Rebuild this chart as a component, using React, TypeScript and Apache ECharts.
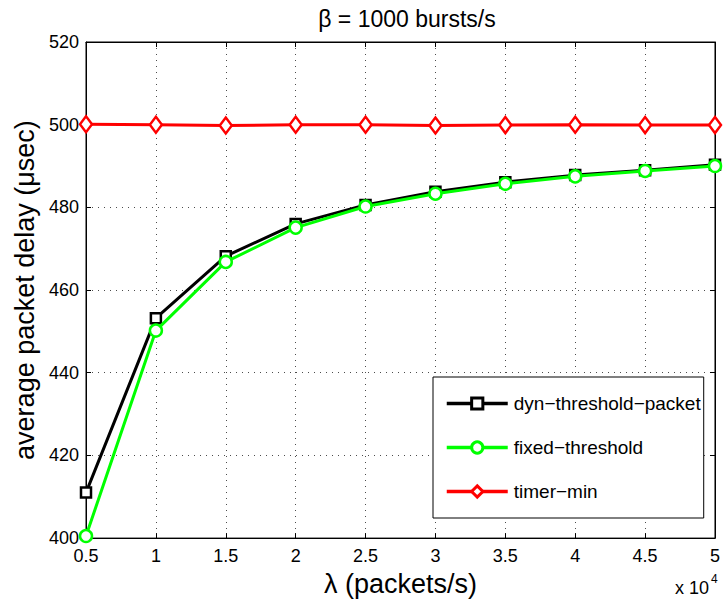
import React, { useEffect, useRef } from "react";
import * as echarts from "echarts";

const xValues = [0.5, 1, 1.5, 2, 2.5, 3, 3.5, 4, 4.5, 5];
const dynThreshold = [411, 453.2, 468.2, 476, 480.6, 483.8, 486.1, 487.8, 489, 490.3];
const fixedThreshold = [400.5, 450.2, 466.8, 475.1, 480.2, 483.3, 485.7, 487.5, 488.8, 490];
const timerMin = [500.1, 500, 499.8, 500, 500, 499.8, 499.9, 500, 499.9, 499.9];
const seriesNames = ["dyn\u2212threshold\u2212packet", "fixed\u2212threshold", "timer\u2212min"];

const FONT = "'Liberation Sans', Arial, Helvetica, sans-serif";

export default function App() {
  const ref = useRef<HTMLDivElement>(null);
  useEffect(() => {
    const chart = echarts.init(ref.current!, undefined, { renderer: "svg" });
    const mk = (ys: number[]) => xValues.map((x, i) => [x, ys[i]]);
    const tickStyle = { show: true, inside: true, length: 5, lineStyle: { color: "#000" } };
    chart.setOption({
      animation: false,
      backgroundColor: "#fff",
      textStyle: { fontFamily: FONT },
      title: {
        text: "\u03b2 = 1000 bursts/s",
        left: 402,
        textAlign: "center",
        top: 2,
        textStyle: { fontFamily: FONT, fontSize: 23, fontWeight: "normal", color: "#000" },
      },
      grid: { left: 86, right: 6, top: 42, bottom: 61, show: true, borderColor: "#000", borderWidth: 1 },
      legend: {
        orient: "vertical",
        left: 433,
        top: 377,
        data: seriesNames,
        backgroundColor: "#fff",
        borderColor: "#000",
        borderWidth: 1,
        padding: [17, 3, 17, 12],
        itemGap: 25,
        itemWidth: 61,
        itemHeight: 14,
        lineStyle: { width: 3.5 },
        itemStyle: { borderWidth: 3 },
        textStyle: { fontFamily: FONT, fontSize: 19, color: "#000", padding: [0, 0, 0, 1] },
      },
      xAxis: [
        {
          type: "value",
          min: 0.5,
          max: 5,
          interval: 0.5,
          name: "\u03bb (packets/s)",
          nameLocation: "middle",
          nameGap: 29,
          nameTextStyle: { fontFamily: FONT, fontSize: 27, color: "#000" },
          axisLine: { show: true, lineStyle: { color: "#000" } },
          axisTick: tickStyle,
          axisLabel: { color: "#000", fontSize: 18, fontFamily: FONT, margin: 9, formatter: (v: number) => String(v) },
          splitLine: { show: true, lineStyle: { color: "#000", type: [1, 5], width: 1, opacity: 0.7 } },
        },
        {
          type: "value",
          position: "top",
          min: 0.5,
          max: 5,
          interval: 0.5,
          axisLine: { show: true, lineStyle: { color: "#000" } },
          axisTick: tickStyle,
          axisLabel: { show: false },
          splitLine: { show: false },
        },
      ],
      yAxis: [
        {
          type: "value",
          min: 400,
          max: 520,
          interval: 20,
          name: "average packet delay (\u03bcsec)",
          nameLocation: "middle",
          nameGap: 46,
          nameTextStyle: { fontFamily: FONT, fontSize: 27, color: "#000" },
          axisLine: { show: true, lineStyle: { color: "#000" } },
          axisTick: tickStyle,
          axisLabel: { color: "#000", fontSize: 18, fontFamily: FONT, margin: 7 },
          splitLine: { show: true, lineStyle: { color: "#000", type: [1, 5], width: 1, opacity: 0.7 } },
        },
        {
          type: "value",
          position: "right",
          min: 400,
          max: 520,
          interval: 20,
          axisLine: { show: true, lineStyle: { color: "#000" } },
          axisTick: tickStyle,
          axisLabel: { show: false },
          splitLine: { show: false },
        },
      ],
      graphic: [
        {
          type: "text",
          left: 675,
          top: 579,
          style: { text: "x 10", fontFamily: FONT, fontSize: 18, fill: "#000" },
        },
        {
          type: "text",
          left: 711,
          top: 573,
          style: { text: "4", fontFamily: FONT, fontSize: 12, fill: "#000" },
        },
      ],
      series: [
        {
          name: seriesNames[0],
          type: "line",
          data: mk(dynThreshold),
          symbol: "rect",
          symbolSize: 10,
          showAllSymbol: true,
          lineStyle: { color: "#000", width: 3 },
          itemStyle: { color: "#fff", borderColor: "#000", borderWidth: 2.5 },
          color: "#000",
          z: 3,
        },
        {
          name: seriesNames[1],
          type: "line",
          data: mk(fixedThreshold),
          symbol: "circle",
          symbolSize: 12,
          lineStyle: { color: "#00ff00", width: 3 },
          itemStyle: { color: "#fff", borderColor: "#00ff00", borderWidth: 2.5 },
          color: "#00ff00",
          z: 4,
        },
        {
          name: seriesNames[2],
          type: "line",
          data: mk(timerMin),
          symbol: "diamond",
          symbolSize: [12, 16],
          lineStyle: { color: "#ff0000", width: 3 },
          itemStyle: { color: "#fff", borderColor: "#ff0000", borderWidth: 2.5 },
          color: "#ff0000",
          z: 5,
        },
      ],
    });
    return () => chart.dispose();
  }, []);
  return (
    <div
      ref={ref}
      style={{ position: "absolute", left: 0, top: 0, width: 723, height: 602, background: "#fff" }}
    />
  );
}
